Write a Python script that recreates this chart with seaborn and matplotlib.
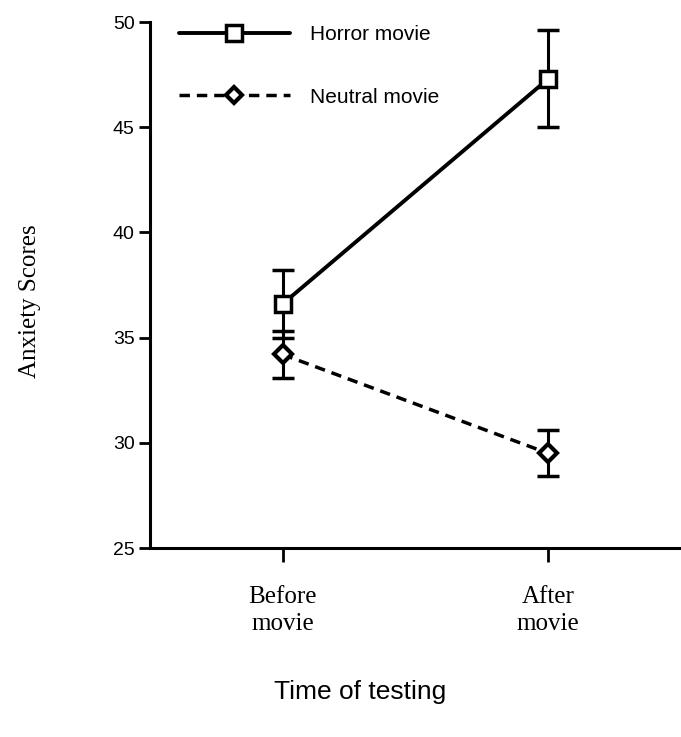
import numpy as np
import pandas as pd
import matplotlib
matplotlib.use('Agg')
import matplotlib.pyplot as plt
import seaborn as sns
from matplotlib.lines import Line2D

# data
times = ['Before\nmovie', 'After\nmovie']
horror_mean = [36.6, 47.3]
horror_se = [1.6, 2.3]
neutral_mean = [34.2, 29.5]
neutral_se = [1.1, 1.1]

df = pd.DataFrame({
    'time': [0, 1, 0, 1],
    'score': horror_mean + neutral_mean,
    'group': ['Horror movie'] * 2 + ['Neutral movie'] * 2,
})

sns.set_style('ticks')
plt.rcParams['font.family'] = ['Liberation Sans', 'DejaVu Sans']
plt.rcParams['text.color'] = 'black'
plt.rcParams['axes.labelcolor'] = 'black'
plt.rcParams['xtick.color'] = 'black'
plt.rcParams['ytick.color'] = 'black'
plt.rcParams['axes.edgecolor'] = 'black'

fig = plt.figure(figsize=(6.81, 7.37), dpi=100)
ax = fig.add_axes([0.22, 0.2564, 0.78, 0.7137])

sns.lineplot(data=df[df.group == 'Horror movie'], x='time', y='score', ax=ax,
             color='black', lw=2.8, marker='s', markersize=12,
             markerfacecolor='white', markeredgecolor='black', markeredgewidth=2.5,
             zorder=3)
sns.lineplot(data=df[df.group == 'Neutral movie'], x='time', y='score', ax=ax,
             color='black', lw=2.5, linestyle=(0, (3, 2)), marker='D', markersize=9,
             markerfacecolor='white', markeredgecolor='black', markeredgewidth=3,
             zorder=3)

ax.errorbar([0, 1], horror_mean, yerr=horror_se, fmt='none', ecolor='black',
            elinewidth=2.2, capsize=8, capthick=2.5, zorder=2)
ax.errorbar([0, 1], neutral_mean, yerr=neutral_se, fmt='none', ecolor='black',
            elinewidth=2.2, capsize=8, capthick=2.5, zorder=2)

ax.set_xlim(-0.5, 1.5)
ax.set_ylim(25, 50)
ax.set_yticks([25, 30, 35, 40, 45, 50])
ax.set_xticks([0, 1])
ax.set_xticklabels(times, family='Liberation Serif', fontsize=18, linespacing=1.35)
ax.tick_params(axis='y', labelsize=14, width=2, length=8, direction='out', pad=3)
ax.tick_params(axis='x', width=2, length=10, direction='out', pad=17)

sns.despine(ax=ax, top=True, right=True)
ax.spines['left'].set_linewidth(2.2)
ax.spines['bottom'].set_linewidth(2.2)

ax.set_xlabel('Time of testing', fontsize=19)
ax.xaxis.set_label_coords(0.395, -0.25)
ax.set_ylabel('Anxiety Scores', family='Liberation Serif', fontsize=18)
ax.yaxis.set_label_coords(-0.205, 0.47)

handles = [
    Line2D([], [], color='black', lw=2.8, marker='s', markersize=11,
           markerfacecolor='white', markeredgewidth=2.5),
    Line2D([], [], color='black', lw=2.5, linestyle=(0, (3, 2)), marker='D',
           markersize=8, markerfacecolor='white', markeredgewidth=3),
]
ax.legend(handles, ['Horror movie', 'Neutral movie'], loc='upper left',
          bbox_to_anchor=(0.02, 1.03), frameon=False, fontsize=15,
          handlelength=5.3, handletextpad=1.0, labelspacing=2.1)

fig.savefig('out.png', dpi=100)
